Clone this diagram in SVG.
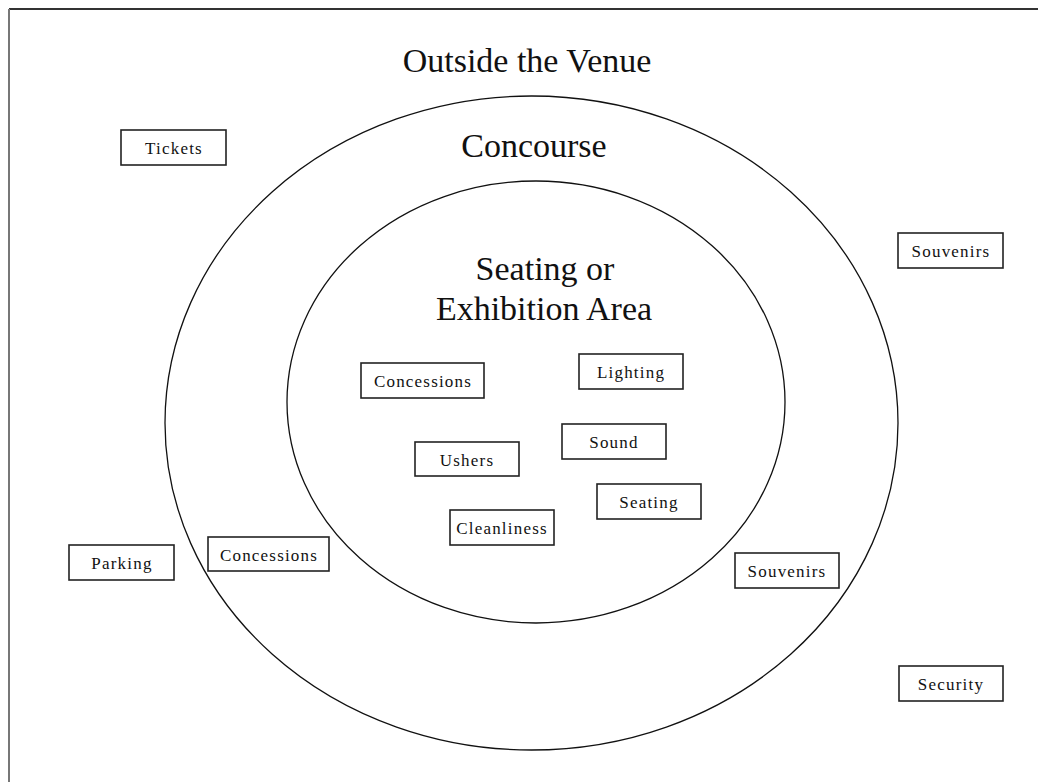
<svg xmlns="http://www.w3.org/2000/svg" width="1038" height="782" viewBox="0 0 1038 782">
<style>
.bg{fill:#fff}
.ring{fill:none;stroke:#111;stroke-width:1.3}
.box{fill:#fff;stroke:#222;stroke-width:1.6}
.lbl{font-family:"Liberation Serif","Times New Roman",serif;font-size:17px;letter-spacing:1.2px;fill:#111;text-anchor:middle}
.title{font-family:"Liberation Serif","Times New Roman",serif;font-size:34px;fill:#111;text-anchor:middle}
</style>
<rect class="bg" x="0" y="0" width="1038" height="782"/>
<g id="frame">
<line x1="9" y1="9" x2="1038" y2="9" stroke="#333" stroke-width="2"/>
<line x1="9" y1="9" x2="9" y2="782" stroke="#777" stroke-width="2"/>
</g>
<g id="outside-zone">
<text class="title" x="527" y="72">Outside the Venue</text>
</g>
<g id="concourse-zone">
<ellipse class="ring" cx="531.5" cy="423" rx="366.5" ry="327"/>
<text class="title" x="534" y="157">Concourse</text>
</g>
<g id="seating-zone">
<ellipse class="ring" cx="536" cy="402" rx="249" ry="221"/>
<text class="title" x="545" y="280">Seating or</text>
<text class="title" x="544" y="320">Exhibition Area</text>
</g>
<g id="tickets"><rect class="box" x="121" y="130" width="105" height="35"/><text class="lbl" x="174" y="154">Tickets</text></g>
<g id="souvenirs-outside"><rect class="box" x="898" y="233" width="105" height="35"/><text class="lbl" x="951" y="257">Souvenirs</text></g>
<g id="security"><rect class="box" x="899" y="666" width="104" height="35"/><text class="lbl" x="951" y="690">Security</text></g>
<g id="parking"><rect class="box" x="69" y="545" width="105" height="35"/><text class="lbl" x="122" y="569">Parking</text></g>
<g id="concessions-concourse"><rect class="box" x="208" y="537" width="121" height="34"/><text class="lbl" x="269" y="561">Concessions</text></g>
<g id="souvenirs-concourse"><rect class="box" x="735" y="553" width="104" height="35"/><text class="lbl" x="787" y="577">Souvenirs</text></g>
<g id="concessions-seating"><rect class="box" x="361" y="363" width="123" height="35"/><text class="lbl" x="423" y="387">Concessions</text></g>
<g id="lighting"><rect class="box" x="579" y="354" width="104" height="35"/><text class="lbl" x="631" y="378">Lighting</text></g>
<g id="sound"><rect class="box" x="562" y="424" width="104" height="35"/><text class="lbl" x="614" y="448">Sound</text></g>
<g id="ushers"><rect class="box" x="415" y="442" width="104" height="34"/><text class="lbl" x="467" y="466">Ushers</text></g>
<g id="seating"><rect class="box" x="597" y="484" width="104" height="35"/><text class="lbl" x="649" y="508">Seating</text></g>
<g id="cleanliness"><rect class="box" x="450" y="510" width="104" height="35"/><text class="lbl" x="502" y="534">Cleanliness</text></g>
<g id="connectors"></g>
</svg>
